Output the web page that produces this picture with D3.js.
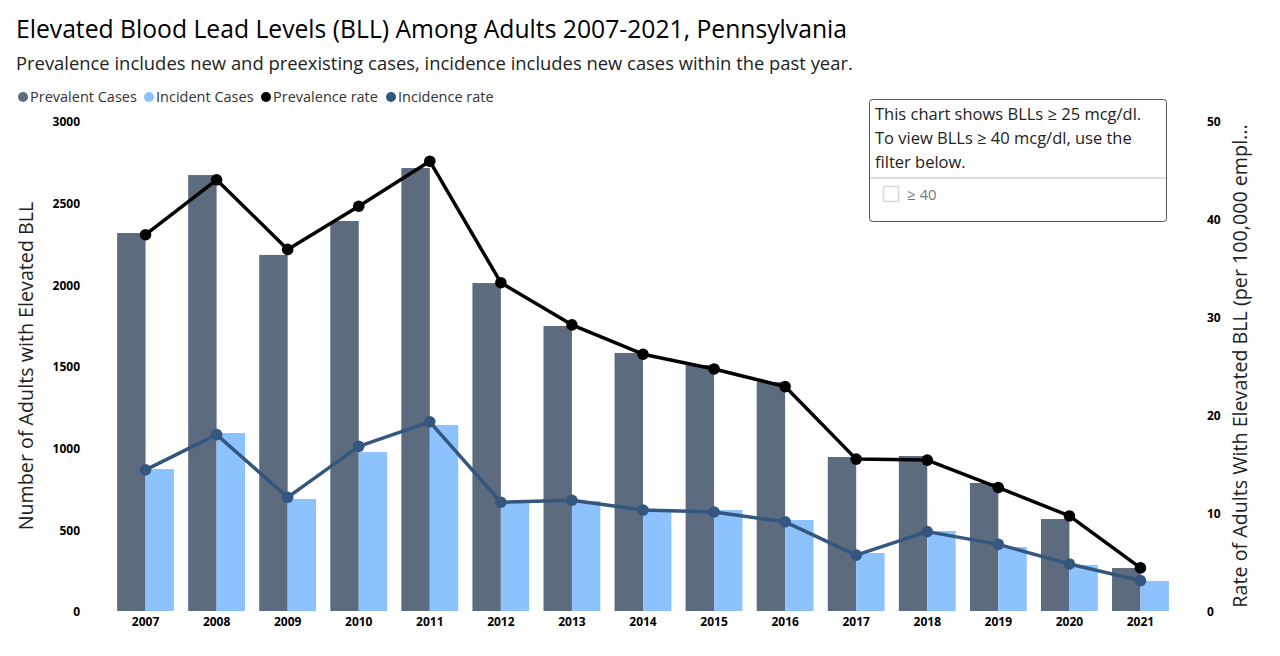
<!DOCTYPE html>
<html>
<head>
<meta charset="utf-8">
<script src="https://cdn.jsdelivr.net/npm/d3@7"></script>
<style>
  html, body { margin: 0; background: #fff; }
  svg { display: block; font-family: "Open Sans", sans-serif; }
  .tick text { font-family: "Open Sans", sans-serif; font-size: 12px; font-weight: 700; fill: #000; }
  .tick line, .domain { display: none; }
</style>
</head>
<body>
<svg id="chart" width="1280" height="656"></svg>
<script>
const years = [2007, 2008, 2009, 2010, 2011, 2012, 2013, 2014, 2015, 2016, 2017, 2018, 2019, 2020, 2021];
const prevalentCases = [2314, 2669, 2180, 2388, 2712, 2008, 1745, 1580, 1506, 1402, 943, 949, 784, 563, 263];
const incidentCases = [869, 1090, 686, 973, 1139, 661, 673, 612, 618, 557, 355, 490, 392, 282, 184];
const prevalenceRate = [38.4, 44.0, 36.9, 41.3, 45.9, 33.5, 29.2, 26.2, 24.7, 22.9, 15.5, 15.4, 12.6, 9.7, 4.4];
const incidenceRate = [14.4, 18.0, 11.6, 16.8, 19.3, 11.1, 11.3, 10.3, 10.1, 9.1, 5.7, 8.1, 6.8, 4.8, 3.1];
const leftTicks = [0, 500, 1000, 1500, 2000, 2500, 3000];
const rightTicks = [0, 10, 20, 30, 40, 50];
const legendLabels = ["Prevalent Cases", "Incident Cases", "Prevalence rate", "Incidence rate"];
const noteLines = ["This chart shows BLLs ≥ 25 mcg/dl.", "To view BLLs ≥ 40 mcg/dl, use the", "filter below."];

const colors = ["#5c6b7e", "#8cc3ff", "#000000", "#34577f"];
const svg = d3.select("#chart");

const x = d3.scaleBand().domain(years).range([110, 1176]).paddingInner(0.2).paddingOuter(0.1);
const yLeft = d3.scaleLinear().domain([0, 3000]).range([611, 121]);
const yRight = d3.scaleLinear().domain([0, 50]).range([611, 121]);
const center = d => x(d) + x.bandwidth() / 2;

// titles
svg.append("text").attr("x", 16).attr("y", 38).attr("font-size", 24.7).attr("fill", "#000")
  .text("Elevated Blood Lead Levels (BLL) Among Adults 2007-2021, Pennsylvania");
svg.append("text").attr("x", 16).attr("y", 70).attr("font-size", 18.4).attr("fill", "#222")
  .text("Prevalence includes new and preexisting cases, incidence includes new cases within the past year.");

// legend
const legendX = [18, 144, 261, 386];
legendLabels.forEach((label, i) => {
  svg.append("circle").attr("cx", legendX[i] + 5).attr("cy", 97).attr("r", 5).attr("fill", colors[i]);
  svg.append("text").attr("x", legendX[i] + 12).attr("y", 102).attr("font-size", 14.5).attr("fill", "#333").text(label);
});

// axes
svg.append("g").attr("transform", "translate(80,1)")
  .call(d3.axisLeft(yLeft).tickValues(leftTicks).tickFormat(d3.format("d")).tickSize(0).tickPadding(0));
svg.append("g").attr("transform", "translate(1207,1)")
  .call(d3.axisRight(yRight).tickValues(rightTicks).tickSize(0).tickPadding(0));
svg.append("g").attr("transform", "translate(0,611)")
  .call(d3.axisBottom(x).tickSize(0).tickPadding(6));

svg.append("text").attr("transform", "translate(33,366) rotate(-90)").attr("text-anchor", "middle")
  .attr("font-size", 19.7).attr("fill", "#222").text("Number of Adults with Elevated BLL");
svg.append("text").attr("transform", "translate(1247,366) rotate(-90)").attr("text-anchor", "middle")
  .attr("font-size", 19.7).attr("fill", "#222").text("Rate of Adults With Elevated BLL (per 100,000 empl...");

// bars
const barW = x.bandwidth() / 2;
svg.append("g").selectAll("rect").data(years).join("rect")
  .attr("x", d => x(d)).attr("width", barW)
  .attr("y", (d, i) => yLeft(prevalentCases[i]))
  .attr("height", (d, i) => yLeft(0) - yLeft(prevalentCases[i]))
  .attr("fill", colors[0]);
svg.append("g").selectAll("rect").data(years).join("rect")
  .attr("x", d => x(d) + barW).attr("width", barW)
  .attr("y", (d, i) => yLeft(incidentCases[i]))
  .attr("height", (d, i) => yLeft(0) - yLeft(incidentCases[i]))
  .attr("fill", colors[1]);

// lines
[[prevalenceRate, colors[2]], [incidenceRate, colors[3]]].forEach(([values, color]) => {
  const line = d3.line().x((d, i) => center(years[i])).y(d => yRight(d));
  svg.append("path").attr("d", line(values)).attr("fill", "none").attr("stroke", color)
    .attr("stroke-width", 3.5).attr("stroke-linejoin", "round");
  svg.append("g").selectAll("circle").data(values).join("circle")
    .attr("cx", (d, i) => center(years[i])).attr("cy", d => yRight(d)).attr("r", 5.8).attr("fill", color);
});

// filter box
svg.append("rect").attr("x", 869.5).attr("y", 99.5).attr("width", 297).attr("height", 122).attr("rx", 3)
  .attr("fill", "#fff").attr("stroke", "#555");
svg.append("line").attr("x1", 870).attr("x2", 1166).attr("y1", 178).attr("y2", 178).attr("stroke", "#bbb");
noteLines.forEach((t, i) => {
  svg.append("text").attr("x", 875).attr("y", 120 + i * 24).attr("font-size", 16.5).attr("fill", "#222").text(t);
});
svg.append("rect").attr("x", 883.5).attr("y", 186.5).attr("width", 15).attr("height", 15)
  .attr("fill", "#fff").attr("stroke", "#d8d8d8").attr("stroke-width", 1.5);
svg.append("text").attr("x", 907).attr("y", 200).attr("font-size", 15).attr("fill", "#777").text("≥ 40");
</script>
</body>
</html>
